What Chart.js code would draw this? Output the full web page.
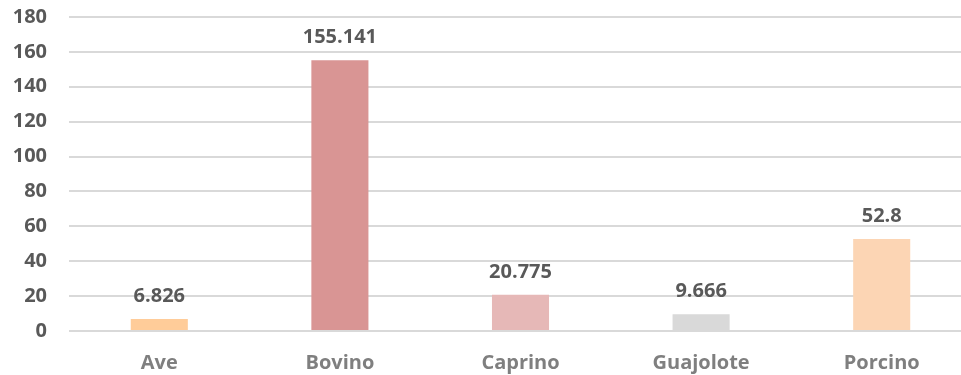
<!DOCTYPE html>
<html>
<head>
<meta charset="utf-8">
<script src="https://cdn.jsdelivr.net/npm/chart.js@4/dist/chart.umd.min.js"></script>
<style>
  html, body { margin: 0; padding: 0; background: #fff; overflow: hidden; }
  .chart-wrap { width: 972px; height: 375px; position: relative; }
</style>
</head>
<body>
<div class="chart-wrap">
  <canvas id="especiesChart"></canvas>
</div>
<script>
// valores por especie
const categories = ['Ave', 'Bovino', 'Caprino', 'Guajolote', 'Porcino'];
const values = [6.826, 155.141, 20.775, 9.666, 52.8];
const barColors = ['#FFCC99', '#D99594', '#E6B8B7', '#D9D9D9', '#FCD5B4'];
const yTicks = [0, 20, 40, 60, 80, 100, 120, 140, 160, 180];

const FONT = "'Open Sans', sans-serif";

// etiquetas encima de cada barra
const valueLabels = {
  id: 'valueLabels',
  afterDatasetsDraw(chart) {
    const ctx = chart.ctx;
    const meta = chart.getDatasetMeta(0);
    ctx.save();
    ctx.font = 'bold 20px ' + FONT;
    ctx.fillStyle = '#595959';
    ctx.textAlign = 'center';
    ctx.textBaseline = 'alphabetic';
    meta.data.forEach((bar, i) => {
      ctx.fillText(String(values[i]), bar.x, bar.y - 17);
    });
    ctx.restore();
  }
};

const ctx = document.getElementById('especiesChart').getContext('2d');
new Chart(ctx, {
  type: 'bar',
  data: {
    labels: categories,
    datasets: [{
      data: values,
      backgroundColor: barColors,
      borderWidth: 0,
      categoryPercentage: 1,
      barPercentage: 0.316
    }]
  },
  options: {
    responsive: true,
    maintainAspectRatio: false,
    animation: false,
    layout: { padding: { top: 17, left: 0, right: 0, bottom: 0 } },
    plugins: {
      legend: { display: false },
      tooltip: { enabled: false }
    },
    scales: {
      x: {
        grid: { display: false, drawTicks: false },
        border: { display: false },
        afterFit: axis => { axis.height = 44; },
        ticks: {
          color: '#7F7F7F',
          padding: 20,
          font: { family: FONT, size: 20, weight: 'bold' }
        }
      },
      y: {
        min: 0,
        max: 180,
        afterBuildTicks: axis => { axis.ticks = yTicks.map(v => ({ value: v })); },
        afterFit: axis => {
          axis.width = 69;
          axis.paddingTop = 0;
          axis.paddingBottom = 0;
        },
        grid: { color: '#D9D9D9', lineWidth: 2, drawTicks: false },
        border: { display: false },
        ticks: {
          color: '#595959',
          padding: 22,
          font: { family: FONT, size: 20, weight: 'bold' }
        }
      }
    }
  },
  plugins: [valueLabels]
});
</script>
</body>
</html>
